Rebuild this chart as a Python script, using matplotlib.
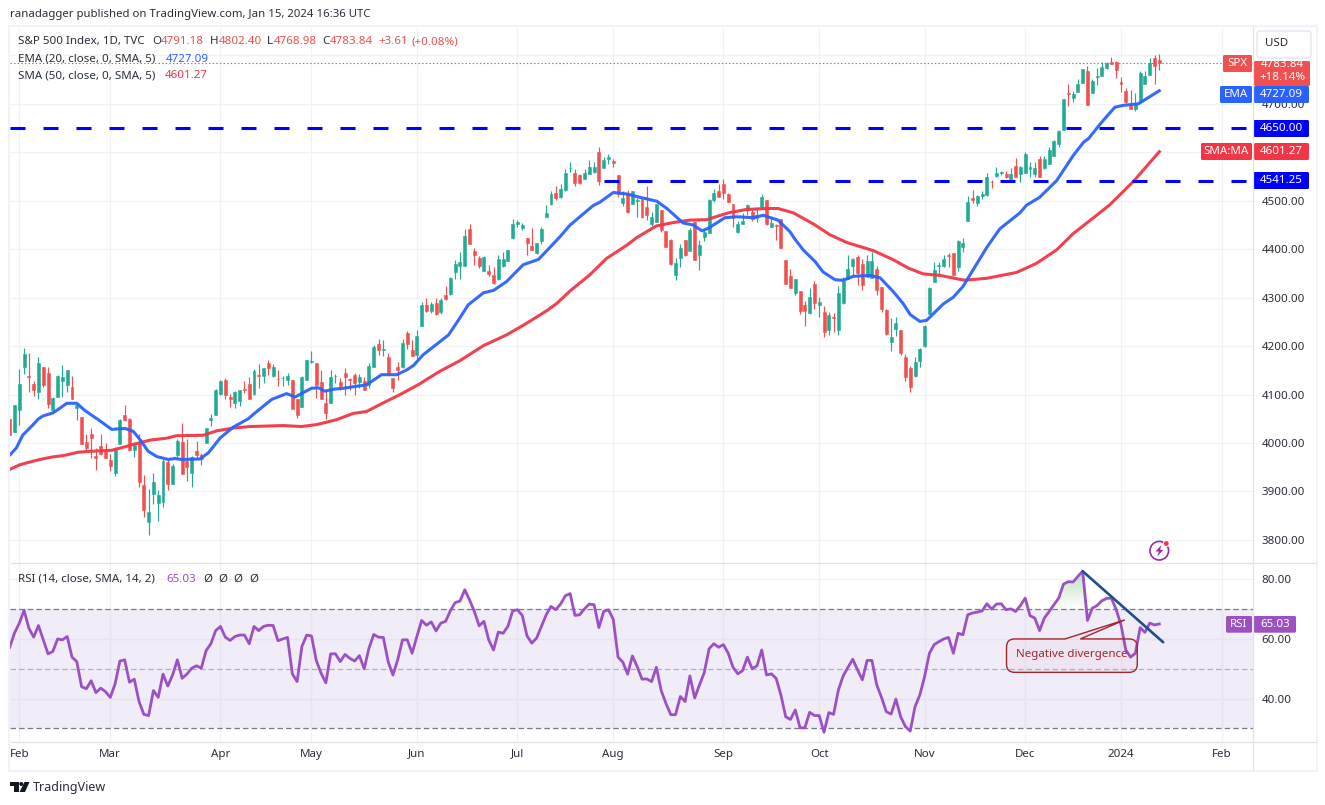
import numpy as np
import matplotlib
matplotlib.use("Agg")
import matplotlib.pyplot as plt
from matplotlib.patches import Rectangle, FancyBboxPatch, PathPatch, Circle, Polygon
from matplotlib.path import Path

plt.rcParams['font.family'] = ['Noto Sans', 'DejaVu Sans']
plt.rcParams['lines.scale_dashes'] = False

# --- OHLC, one line per month; bar index -2 is 30 Jan 2023, bar 0 is 1 Feb 2023
opens = [4050, 4022,
 4069,4157,4139,4121,4105,4156,4145,4068,4095,4127,4119,4116,4072,4054,4003,4019,3974,3994,3983,
 3965,3939,3997,4057,4050,3986,4000,3914,3836,3894,3877,3879,3960,3916,3976,4003,3963,3939,3983,3975,4000,4047,4057,
 4101,4129,4095,4082,4086,4112,4122,4101,4141,4138,4166,4138,4133,4134,4131,4129,4090,4075,4129,
 4168,4166,4125,4083,4082,4138,4126,4145,4133,4140,4126,4128,4119,4157,4205,4192,4178,4135,4157,4156,4227,4192,
 4182,4241,4285,4272,4288,4270,4306,4308,4352,4366,4365,4442,4397,4382,4356,4356,4346,4338,4366,4375,4423,
 4451,4444,4424,4406,4393,4416,4467,4493,4517,4508,4522,4567,4557,4553,4544,4555,4560,4600,4567,4586,
 4582,4553,4495,4515,4493,4500,4504,4488,4451,4457,4480,4437,4418,4346,4381,4418,4397,4457,4389,4426,4433,4501,4520,
 4534,4513,4493,4435,4451,4480,4476,4465,4488,4501,4445,4449,4463,4377,4344,4310,4314,4284,4268,4329,
 4284,4271,4234,4260,4234,4288,4339,4366,4383,4370,4343,4341,4360,4322,4275,4209,4236,4234,4177,4155,4139,4170,
 4201,4267,4333,4366,4365,4387,4392,4364,4405,4459,4505,4496,4509,4512,4539,4552,4557,4555,4545,4572,4556,
 4558,4565,4556,4587,4568,4576,4593,4618,4647,4723,4713,4725,4744,4767,4723,4755,4758,4773,4787,4787,
 4746,4727,4698,4690,4703,4742,4760,4794,4791.18]
highs = [4050, 4079,
 4152,4197,4185,4127,4178,4157,4157,4095,4141,4162,4150,4139,4083,4054,4019,4030,3990,4019,3999,
 3978,3992,4050,4079,4052,4002,4019,3934,3905,3939,3903,3967,3965,3957,4009,4041,4008,3974,4005,3979,4031,4059,4112,
 4129,4135,4102,4108,4110,4127,4137,4152,4164,4155,4172,4164,4150,4139,4144,4129,4090,4138,4172,
 4189,4166,4150,4107,4150,4142,4134,4155,4135,4144,4142,4136,4165,4203,4215,4212,4185,4135,4168,4214,4232,4213,
 4234,4290,4299,4290,4299,4299,4325,4342,4377,4394,4441,4451,4402,4386,4385,4368,4364,4387,4394,4399,4462,
 4460,4455,4424,4443,4413,4445,4491,4520,4530,4534,4565,4581,4566,4555,4565,4584,4581,4611,4591,4596,
 4587,4553,4521,4522,4521,4506,4504,4530,4477,4493,4480,4437,4422,4382,4410,4420,4444,4457,4420,4439,4503,4524,4534,
 4544,4517,4493,4458,4475,4493,4486,4482,4513,4501,4465,4453,4463,4377,4360,4339,4314,4294,4319,4335,
 4302,4283,4271,4269,4325,4342,4387,4381,4387,4379,4387,4395,4366,4322,4277,4257,4261,4234,4184,4159,4177,4197,
 4244,4321,4374,4374,4388,4392,4392,4419,4423,4510,4523,4512,4521,4557,4543,4570,4562,4562,4567,4589,4572,
 4601,4580,4580,4593,4593,4611,4626,4647,4710,4740,4727,4752,4771,4779,4752,4775,4787,4787,4796,4789,
 4756,4732,4729,4722,4767,4767,4794,4800,4802.40]
lows = [4017, 4022,
 4038,4143,4105,4097,4090,4116,4072,4062,4094,4095,4106,4090,4047,3997,3981,3970,3945,3976,3969,
 3942,3931,3997,4046,3983,3972,3910,3848,3810,3874,3840,3867,3903,3916,3972,3936,3921,3910,3970,3954,4000,4035,4057,
 4100,4090,4075,4072,4076,4103,4090,4100,4114,4124,4141,4137,4117,4117,4119,4071,4051,4075,4129,
 4166,4092,4090,4050,4082,4123,4110,4099,4110,4099,4113,4110,4113,4156,4182,4179,4144,4106,4130,4155,4195,4179,
 4173,4241,4270,4268,4265,4266,4295,4306,4339,4339,4365,4410,4368,4362,4355,4344,4328,4337,4364,4375,4422,
 4446,4439,4387,4399,4391,4410,4466,4492,4502,4506,4521,4560,4530,4535,4544,4555,4558,4533,4567,4575,
 4569,4508,4489,4475,4493,4466,4465,4460,4448,4456,4435,4404,4367,4337,4363,4385,4397,4377,4358,4417,4433,4497,4507,
 4503,4497,4445,4433,4451,4470,4459,4456,4484,4449,4445,4418,4402,4329,4319,4305,4267,4241,4267,4277,
 4261,4218,4222,4229,4222,4286,4339,4347,4327,4315,4343,4341,4306,4271,4223,4190,4221,4182,4128,4105,4137,4156,
 4199,4266,4333,4345,4364,4364,4345,4356,4395,4459,4496,4490,4503,4510,4527,4549,4554,4547,4543,4550,4539,
 4557,4548,4548,4548,4566,4576,4593,4610,4645,4696,4704,4725,4744,4698,4723,4738,4758,4771,4783,4754,
 4725,4702,4689,4685,4702,4740,4759,4742,4768.98]
closes = [4017, 4079,
 4121,4183,4137,4110,4166,4119,4081,4092,4139,4137,4150,4090,4079,3997,3990,4010,3970,3978,3970,
 3952,3988,4048,4048,3986,3996,3919,3861,3858,3920,3893,3962,3916,3953,4005,3936,3950,3972,3976,3968,4030,4052,4110,
 4127,4100,4090,4106,4110,4110,4091,4148,4138,4154,4154,4156,4132,4135,4139,4071,4057,4137,4172,
 4170,4119,4090,4061,4137,4139,4118,4137,4131,4124,4137,4110,4159,4199,4191,4195,4144,4114,4151,4206,4205,4180,
 4221,4284,4273,4286,4267,4296,4297,4341,4370,4374,4428,4410,4389,4366,4383,4348,4330,4380,4379,4399,4453,
 4457,4449,4412,4399,4412,4441,4474,4513,4505,4525,4557,4568,4536,4536,4557,4569,4569,4540,4585,4591,
 4577,4513,4505,4477,4521,4502,4467,4470,4466,4493,4439,4404,4370,4372,4402,4387,4439,4377,4408,4435,4501,4517,4507,
 4515,4497,4465,4453,4459,4491,4462,4470,4507,4451,4455,4447,4402,4329,4319,4339,4273,4273,4302,4288,
 4290,4230,4265,4259,4310,4335,4360,4379,4350,4327,4375,4375,4315,4277,4224,4219,4248,4186,4137,4116,4168,4195,
 4241,4319,4357,4367,4380,4385,4347,4417,4413,4497,4502,4510,4514,4549,4538,4557,4560,4550,4555,4550,4570,
 4597,4570,4568,4550,4586,4605,4624,4644,4709,4721,4721,4742,4771,4698,4748,4757,4777,4785,4783,4769,
 4742,4704,4689,4700,4764,4758,4785,4779,4783.84]

ema_idx = [-1.9,-0.6,0.7,1.9,2.9,4.0,5.0,7.0,8.5,9.9,12,13.7,16.8,19.3,20.3,22.1,23.8,25.2,26.9,28.7,31.1,32.5,33.9,37.7,39.5,41.9,44.7,47.8,49.2,52.7,55.8,57.6,61,62.4,63.8,65.6,67.6,72.5,75.6,78.8,80.9,
 82.3,84.3,89.6,91.7,93.7,96.9,99,101.7,105.2,108.4,112.9,115,119.8,121.2,124,126.8,129.6,133.1,135.2,138.6,140.7,142.5,143.8,147.3,149.8,153.2,155.3,158.4,160.9,
 161.9,163.7,166.1,167.8,170.3,172,174.1,177.6,179.7,182.5,184.5,186,188,189.4,192.9,195,197,199.9,202,204.7,208.9,210.3,213,216.6,220,222.2,223.2,225.7,228.7,230.5,233.6,238]
ema_val = [3976,3990,4016,4028,4038,4050,4056,4062,4072,4082,4082,4067,4046,4028,4029,4030,4024,4007,3983,3972,3966,3968,3966,3967,3980,4010,4033,4050,4062,4090,4102,4095,4113,4114,4107,4111,4113,4120,4141,4141,4151,
 4160,4182,4223,4254,4285,4310,4315,4333,4368,4379,4426,4450,4490,4497,4517,4514,4507,4499,4484,4454,4450,4438,4443,4465,4467,4465,4470,4460,4436,
 4421,4398,4375,4353,4337,4336,4344,4346,4341,4312,4288,4265,4251,4253,4287,4301,4323,4370,4404,4442,4475,4491,4507,4542,4593,4621,4628,4659,4693,4697,4700,4727.09]

sma_idx = [-1.9,0.1,1.9,4.3,6.8,9.2,12.3,15.1,19.3,22.4,23.8,27.3,30.8,32.8,38.4,41.2,44.7,48.2,55.1,58.9,62.1,66.2,69.7,72.5,76,79.5,83.6,
 85,87.8,92,96.9,101.7,105.9,110.1,112.2,115,119.1,122.6,126.8,128.9,133,136.5,140,143.5,148,151.8,156,158.4,
 161.6,165.8,169.2,172.7,178.3,182.5,185.6,188.7,192.2,195.7,197.4,202,208.2,212.4,216.6,220,223.5,227.7,232.6,238]
sma_val = [3946,3955,3960,3966,3971,3974,3981,3983,3985,3993,3997,4006,4010,4015,4016,4025,4031,4034,4036,4034,4038,4048,4061,4065,4083,4100,4122,
 4131,4148,4170,4201,4223,4247,4273,4288,4314,4347,4381,4408,4424,4448,4455,4460,4461,4475,4482,4484,4484,
 4475,4452,4430,4414,4397,4378,4361,4349,4346,4339,4336,4340,4352,4371,4399,4432,4459,4492,4540,4601.27]

rsi_val = [57.2,62,
 65.3,69.6,63.6,60.6,64.5,59.7,55,55.8,60,59.7,60.8,53.9,52.4,44,43.3,46,42,43.5,42.3,
 40.4,44.9,52.6,53,45.5,46.5,39,34.7,34.3,42.7,40.4,48.2,44.2,47.9,53,46.8,48.2,50.2,51,50.2,56.1,58.4,62.8,
 64.2,60.6,59.5,60.8,61.3,61.3,58.4,64.2,62.8,64.2,64.6,64.5,59.4,60,60.5,48.3,45.7,57.5,61.3,
 61,52.8,48.5,45.3,55,55,52.4,54.8,53.5,52.6,54.4,50,56.9,61.5,60.6,60.5,52.4,47.9,53,59.7,59.7,55.2,
 60.8,66.2,64.6,65.7,62.7,65.3,65.9,69.5,72.2,72.7,76.5,73.1,69.2,64.4,65.9,59.7,56.3,62.3,61.9,64.2,69.4,
 69.8,67.9,61,58.6,60.3,64.2,68.1,70.9,69.8,71.7,74.5,75.2,67.9,68.1,70.1,71.7,71.5,63.8,69.2,69.8,
 66.6,53.9,52.2,48.2,54.3,50.7,46.5,46.6,45.7,50.5,42.7,38.4,34.6,34.6,40.7,39,47.6,40.2,44.6,48.7,56.7,58.4,57.2,
 58.1,55.2,50.5,48.3,49.4,53.9,50,51,56.3,47.9,48.3,46.8,41.2,33.9,33,36.2,30.2,30.2,35.4,34.3,
 34.3,28.7,35.3,34.7,42.9,47.6,50.5,53.2,49.6,46.3,52.8,52.8,44.6,40.4,35.6,34.8,39.8,33.9,30.6,29.1,37.3,41.2,
 47.4,55.2,58.1,59.1,60,60.5,55.2,61.9,61.4,68.1,68.7,69,69.4,71.8,70,71.7,71.8,69.8,70.1,69.2,71.2,
 73.7,67.8,67,62.8,67,69.2,71.5,73.7,78.4,79.2,79.1,81,82.7,66.2,70.3,71.2,72.8,73.6,73.7,69.8,
 64.7,56.3,53.9,55.2,63.8,62.2,65.3,64.7,65.03]

trend_idx = [222, 238.8]
trend_val = [82.7, 58.9]

price_levels = [4650.00, 4541.25]
level_starts = [-1.84, 122.0]
last_close = 4783.84
price_ticks = [3800,3900,4000,4100,4200,4300,4400,4500,4600,4700,4800]
rsi_ticks = [40,60,80]
month_idx = [0,19,42,61,83,104,124,147,167,189,210,230,251]
month_names = ['Feb','Mar','Apr','May','Jun','Jul','Aug','Sep','Oct','Nov','Dec','2024','Feb']

# --- colours
UP, DOWN = '#22ab94', '#f0504f'
EMA_C, SMA_C = '#2962ff', '#f23645'
RSI_C = '#9b51c4'
GRID = '#f1f2f5'
BORDER = '#e0e3eb'
TXT = '#2a2e39'

W, H = 1325, 805
fig = plt.figure(figsize=(W/100, H/100), dpi=100, facecolor='white')

def pane(x0, y0, x1, y1):
    return fig.add_axes([x0/W, 1-y1/H, (x1-x0)/W, (y1-y0)/H])

XL, XR = 10.5, 1253.0
X0, DX = 19.3, 4.79
xlim = ((XL-X0)/DX, (XR-X0)/DX)

ax = pane(XL, 28, XR, 563.3)
ax.set_xlim(*xlim)
ax.set_ylim(4000-(563.3-443)/0.4845, 4000+(443-28)/0.4845)

axr = pane(XL, 563.3, XR, 742.3)
axr.set_xlim(*xlim)
rsi_lim = (80-(742.3-579.3)/2.982, 80+(579.3-563.3)/2.982)
axr.set_ylim(*rsi_lim)

for a in (ax, axr):
    for s in a.spines.values():
        s.set_visible(False)
    a.set_axisbelow(True)
    a.grid(True, color=GRID, lw=0.9)
    a.set_xticks(month_idx)
    a.yaxis.tick_right()
    a.tick_params(length=0, labelcolor=TXT, labelsize=8.3)

ax.set_xticklabels([])
ax.set_yticks(price_ticks)
ax.set_yticklabels(['%.2f' % p if p < 4800 else '' for p in price_ticks])
ax.tick_params(axis='y', pad=6.2)

axr.set_xticklabels(month_names)
axr.tick_params(axis='x', pad=4.5)
axr.get_xticklabels()[11].set_fontweight('bold')
axr.set_yticks(rsi_ticks)
axr.set_yticklabels(['%.2f' % p for p in rsi_ticks])
axr.tick_params(axis='y', pad=6.2)

# --- candles
o = np.array(opens, float); h = np.array(highs, float)
l = np.array(lows, float); c = np.array(closes, float)
ix = np.arange(len(o)) - 2
colors = [UP if ci >= oi else DOWN for oi, ci in zip(o, c)]
ax.vlines(ix, l, h, colors=colors, lw=0.85, zorder=3)
ax.bar(ix, np.abs(c-o), bottom=np.minimum(o, c), width=0.62, color=colors,
       edgecolor=colors, linewidth=0.4, zorder=3)

ax.plot(sma_idx, sma_val, color=SMA_C, lw=2.2, zorder=4, alpha=0.95, solid_joinstyle='round')
ax.plot(ema_idx, ema_val, color=EMA_C, lw=2.2, zorder=5, alpha=0.95, solid_joinstyle='round')

# --- horizontal levels
for lv, st in zip(price_levels, level_starts):
    ax.plot([st, xlim[1]], [lv, lv], color='#0000ff', lw=2.2, zorder=6,
            dashes=(15*0.72, 18*0.72), dash_capstyle='butt')
ax.axhline(last_close, color='#f0504f', lw=0.8, dashes=(1.0, 1.6), zorder=2)

# --- RSI pane
rsi = np.array(rsi_val, float)
rx = np.arange(len(rsi)) - 2
axr.axhspan(30, 70, color='#f0ecf8', zorder=0.5, lw=0)
axr.hlines([40, 60], xlim[0], xlim[1], color='#e6e4ef', lw=0.9, zorder=0.6)
axr.vlines(month_idx, 30, 70, color='#e6e4ef', lw=0.9, zorder=0.6)
for lv, col in ((70, '#787b86'), (30, '#787b86'), (50, '#b2b1bb')):
    axr.axhline(lv, color=col, lw=0.9, dashes=(4.0, 2.2), zorder=1, dash_capstyle='butt')

def gradient(where, base, far, rgb, cmax):
    poly = axr.fill_between(rx, base, rsi, where=where, interpolate=True, alpha=0, lw=0)
    paths = poly.get_paths()
    if not paths:
        return
    g = np.zeros((128, 2, 4))
    g[..., 0], g[..., 1], g[..., 2] = rgb
    g[..., 3] = np.linspace(cmax, 0, 128)[:, None]
    im = axr.imshow(g, extent=[xlim[0], xlim[1], base, far], aspect='auto', zorder=1.5,
                    origin='upper' if far > base else 'lower', interpolation='bilinear')
    im.set_clip_path(Path.make_compound_path(*paths), transform=axr.transData)

gradient(rsi >= 70, 70, 84, (0.30, 0.69, 0.31), 0.42)
gradient(rsi <= 30, 30, 27, (0.95, 0.30, 0.30), 0.35)
axr.set_xlim(*xlim)
axr.set_ylim(*rsi_lim)

axr.plot(rx, rsi, color=RSI_C, lw=2.0, zorder=3, solid_joinstyle='round')
axr.plot(trend_idx, trend_val, color='#1f4e8c', lw=1.9, zorder=5, solid_capstyle='round')

# --- callout
x0_, x1_, yb_, yt_ = 206.1, 233.4, 48.8, 60.0
rx_, ry_ = 1.7, 2.7
verts = [(x0_+rx_, yt_), (218.3, yt_), (230.8, 66.4), (221.5, yt_), (x1_-rx_, yt_),
         (x1_, yt_), (x1_, yt_-ry_), (x1_, yb_+ry_), (x1_, yb_), (x1_-rx_, yb_),
         (x0_+rx_, yb_), (x0_, yb_), (x0_, yb_+ry_), (x0_, yt_-ry_), (x0_, yt_), (x0_+rx_, yt_),
         (x0_+rx_, yt_)]
codes = [Path.MOVETO, Path.LINETO, Path.LINETO, Path.LINETO, Path.LINETO,
         Path.CURVE3, Path.CURVE3, Path.LINETO, Path.CURVE3, Path.CURVE3,
         Path.LINETO, Path.CURVE3, Path.CURVE3, Path.LINETO, Path.CURVE3, Path.CURVE3,
         Path.CLOSEPOLY]
axr.add_patch(PathPatch(Path(verts, codes), facecolor=(0.64, 0.14, 0.18, 0.03),
                        edgecolor='#a3252d', lw=1.0, zorder=4))
axr.text((x0_+x1_)/2, 54.7, 'Negative divergence', color='#a3252d', fontsize=8.3,
         ha='center', va='center', zorder=6)

# --- overlay in pixel space: frame, labels, header
ov = fig.add_axes([0, 0, 1, 1], zorder=10)
ov.set_xlim(0, W); ov.set_ylim(H, 0); ov.axis('off'); ov.patch.set_alpha(0)

def T(x, y, s, color=TXT, size=8.3, ha='left', **kw):
    ov.text(x, y, s, color=color, fontsize=size, ha=ha, va='center', **kw)

def box(x0, y0, x1, y1, color, r=1.5, **kw):
    ov.add_patch(FancyBboxPatch((x0+r, y0+r), x1-x0-2*r, y1-y0-2*r,
                 boxstyle='round,pad=%g,rounding_size=%g' % (r, r),
                 facecolor=color, edgecolor='none', **kw))

# frame
ov.add_patch(Rectangle((9, 26), 1317-9, 771-26, fill=False, edgecolor='#f0f3fa', lw=1.5))
for xs, ys in (([XR, XR], [27, 770]), ([XL, 1316], [563.3, 563.3]), ([XL, 1316], [742.3, 742.3])):
    ov.plot(xs, ys, color=BORDER, lw=0.9)

T(10, 14.5, 'ranadagger published on TradingView.com, Jan 15, 2024 16:36 UTC', size=8.2)

REDT = '#f0504f'
T(18, 41.5, 'S&P 500 Index, 1D, TVC')
for x, lab, val in ((152, 'O', '4791.18'), (210, 'H', '4802.40'), (267, 'L', '4768.98'), (322.5, 'C', '4783.84')):
    T(x, 41.5, lab)
    T(x + (9 if lab in 'OH' else 6.5 if lab == 'L' else 7.5), 41.5, val, color=REDT)
T(378, 41.5, '+3.61', color=REDT)
T(411, 41.5, '(+0.08%)', color=REDT)
T(18, 59, 'EMA (20, close, 0, SMA, 5)')
T(165.5, 59, '4727.09', color=EMA_C)
T(18, 75.5, 'SMA (50, close, 0, SMA, 5)')
T(165, 75.5, '4601.27', color=SMA_C)

T(18, 579, 'RSI (14, close, SMA, 14, 2)')
T(166, 579, '65.03', color=RSI_C)
for x in (203, 218, 233, 249):
    T(x, 579, '\u00d8')

# price labels
WHT = 'white'
box(1257, 31, 1311, 58, 'white')
ov.add_patch(FancyBboxPatch((1259, 33), 50, 23, boxstyle='round,pad=2,rounding_size=3',
                            facecolor='white', edgecolor=BORDER, lw=0.9))
T(1277, 44, 'USD', ha='center')

box(1223, 55, 1252, 72, REDT); T(1237.5, 63.5, 'SPX', WHT, ha='center')
box(1254, 61, 1310, 86, REDT)
T(1282, 64.5, '4783.84', WHT, ha='center', clip_on=True)
T(1282, 78, '+18.14%', WHT, ha='center')
box(1220, 86, 1252, 103, EMA_C); T(1236, 94.5, 'EMA', WHT, ha='center')
box(1254, 86, 1309, 103, EMA_C); T(1281.5, 94.5, '4727.09', WHT, ha='center')
box(1253.5, 120, 1309, 137, '#0000ff'); T(1281.5, 128.5, '4650.00', WHT, ha='center')
box(1201, 143, 1252, 160, SMA_C); T(1226.5, 151.5, 'SMA:MA', WHT, ha='center')
box(1254, 143, 1309, 160, SMA_C); T(1281.5, 151.5, '4601.27', WHT, ha='center')
box(1253.5, 172, 1309, 189, '#0000ff'); T(1281.5, 180.5, '4541.25', WHT, ha='center')
box(1226, 616, 1252, 632.7, RSI_C); T(1239, 624.5, 'RSI', WHT, ha='center')
box(1253.5, 616, 1296, 632.7, RSI_C); T(1275, 624.5, '65.03', WHT, ha='center')

# bolt icon
ov.add_patch(Circle((1159.3, 550.7), 9.3, fill=False, edgecolor='#9c27b0', lw=1.2))
ov.add_patch(Polygon([(1161.5, 545), (1155.5, 551.5), (1159, 551.5), (1157, 556.5), (1163.5, 549.8), (1160, 549.8)],
                     closed=True, facecolor='#9c27b0', edgecolor='none'))
ov.add_patch(Circle((1166.3, 543.5), 3.4, facecolor='white', edgecolor='none'))
ov.add_patch(Circle((1166.3, 543.5), 2.4, facecolor='#f23645', edgecolor='none'))

# TradingView logo
ov.add_patch(Polygon([(10, 782), (18.5, 782), (18.5, 792), (14, 792), (14, 786), (10, 786)],
                     closed=True, facecolor='#131722', edgecolor='none'))
ov.add_patch(Circle((21.3, 784), 2.0, facecolor='#131722', edgecolor='none'))
ov.add_patch(Polygon([(24.5, 782), (29.5, 782), (25, 792), (19.5, 792)],
                     closed=True, facecolor='#131722', edgecolor='none'))
T(33, 787, 'TradingView', '#2a2e39', size=9.0)

fig.savefig('out.png', dpi=100)
